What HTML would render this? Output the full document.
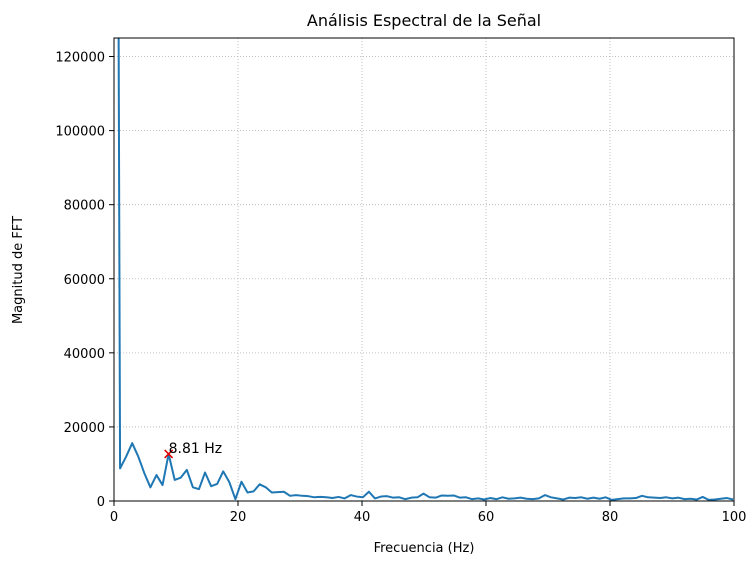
<!DOCTYPE html>
<html><head><meta charset="utf-8"><style>
body{margin:0;background:#fff;}
svg{display:block;font-family:"DejaVu Sans","Liberation Sans",sans-serif;}
</style></head><body>
<svg id="chart" width="756" height="567">
<defs><clipPath id="clip"><rect x="114" y="38" width="620" height="463"/></clipPath></defs>
<g id="grid"></g>
<g id="series" clip-path="url(#clip)"></g>
<g id="axes"></g>
<text x="424" y="26" text-anchor="middle" font-size="16" fill="#000">Análisis Espectral de la Señal</text>
<text x="424" y="552" text-anchor="middle" font-size="13" fill="#000">Frecuencia (Hz)</text>
<text x="22" y="270" text-anchor="middle" font-size="13" fill="#000" transform="rotate(-90 22 270)">Magnitud de FFT</text>
</svg>
<script>
const df = 8.81/9;
const magnitudes = [500000,8800,12000,15600,12000,7500,3700,7000,4300,12700,5700,6300,8400,3700,3200,7700,4000,4600,8000,5100,500,5200,2300,2600,4500,3700,2300,2400,2500,1400,1600,1400,1300,1000,1100,1000,800,1100,700,1600,1200,1000,2500,700,1200,1300,900,1000,500,900,1000,2000,1000,900,1500,1400,1500,900,1000,500,700,400,800,500,1000,600,700,900,600,500,700,1600,1000,700,400,900,800,1000,600,900,600,1000,300,500,700,700,800,1400,1000,900,800,1000,700,900,500,600,400,1100,300,400,600,800,400];
const xTicks = [0,20,40,60,80,100];
const yTicks = [0,20000,40000,60000,80000,100000,120000];
const peakFreq = 8.81;
const peakMag = 12700;
const peakLabel = "8.81 Hz";
const X0=114,X1=734,Y0=501,Y1=38,xMax=100,yMax=125000;
const sx=v=>X0+(v/xMax)*(X1-X0);
const sy=v=>Y0-(v/yMax)*(Y0-Y1);
const NS="http://www.w3.org/2000/svg";
const grid=document.getElementById('grid'),axes=document.getElementById('axes'),series=document.getElementById('series');
function mk(tag,attrs,parent){const e=document.createElementNS(NS,tag);for(const k in attrs)e.setAttribute(k,attrs[k]);parent.appendChild(e);return e;}
xTicks.forEach(t=>{
  const g=mk('line',{x1:sx(t),x2:sx(t),y1:Y1,y2:Y0,stroke:'#b0b0b0','stroke-width':0.8,'stroke-dasharray':'1,2'},grid);
  
  
  const tk=mk('line',{x1:sx(t),x2:sx(t),y1:Y0,y2:Y0+5,stroke:'#000','stroke-width':1},axes);
  
  
  const tx=mk('text',{x:sx(t),y:Y0+20,'text-anchor':'middle','font-size':13},axes);
  tx.textContent=t;
  
  
});
yTicks.forEach(t=>{
  const g=mk('line',{x1:X0,x2:X1,y1:sy(t),y2:sy(t),stroke:'#b0b0b0','stroke-width':0.8,'stroke-dasharray':'1,2'},grid);
  
  
  const tk=mk('line',{x1:X0-5,x2:X0,y1:sy(t),y2:sy(t),stroke:'#000','stroke-width':1},axes);
  
  
  const tx=mk('text',{x:X0-9,y:sy(t)+5,'text-anchor':'end','font-size':13},axes);
  tx.textContent=t;
  
  
});
const frame=mk('rect',{x:X0,y:Y1,width:X1-X0,height:Y0-Y1,fill:'none',stroke:'#000','stroke-width':1},axes);


const pts=magnitudes.map((m,i)=>sx(i*df).toFixed(2)+','+sy(m).toFixed(2)).join(' ');
const line=mk('polyline',{points:pts,fill:'none',stroke:'#1f77b4','stroke-width':2,'stroke-linejoin':'round'},series);


const px=sx(peakFreq),py=sy(peakMag);
const mark=mk('path',{d:`M${px-4},${py-4}L${px+4},${py+4}M${px-4},${py+4}L${px+4},${py-4}`,stroke:'#e00000','stroke-width':1.5},axes);


const pl=mk('text',{x:px,y:py-1,'font-size':14,fill:'#000'},axes);
pl.textContent=peakLabel;


</script>
</body></html>
